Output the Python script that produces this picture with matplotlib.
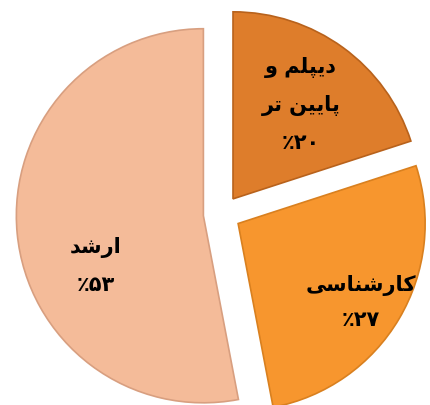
import matplotlib
matplotlib.use("Agg")
import matplotlib.pyplot as plt
import numpy as np

# داده ها
label_lines = [["دیپلم و", "پایین تر"], ["کارشناسی"], ["ارشد"]]
values = [20, 27, 53]
colors = ["#DE7D2B", "#F7962E", "#F4BB99"]
edge_colors = ["#B8621C", "#D9801F", "#D89F80"]

# Arabic presentation forms: isolated, final, initial, medial
FORMS = {
    'ا': ('\uFE8D', '\uFE8E', None, None),
    'د': ('\uFEA9', '\uFEAA', None, None),
    'ر': ('\uFEAD', '\uFEAE', None, None),
    'و': ('\uFEED', '\uFEEE', None, None),
    'پ': ('\uFB56', '\uFB57', '\uFB58', '\uFB59'),
    'ت': ('\uFE95', '\uFE96', '\uFE97', '\uFE98'),
    'ش': ('\uFEB5', '\uFEB6', '\uFEB7', '\uFEB8'),
    'س': ('\uFEB1', '\uFEB2', '\uFEB3', '\uFEB4'),
    'ل': ('\uFEDD', '\uFEDE', '\uFEDF', '\uFEE0'),
    'م': ('\uFEE1', '\uFEE2', '\uFEE3', '\uFEE4'),
    'ن': ('\uFEE5', '\uFEE6', '\uFEE7', '\uFEE8'),
    'ی': ('\uFBFC', '\uFBFD', '\uFBFE', '\uFBFF'),
    'ک': ('\uFB8E', '\uFB8F', '\uFB90', '\uFB91'),
}


def shape(text):
    # matplotlib has no bidi / shaping, do it by hand
    out = []
    for i, ch in enumerate(text):
        f = FORMS.get(ch)
        if f is None:
            out.append(ch)
            continue
        prev = text[i - 1] if i > 0 else None
        nxt = text[i + 1] if i + 1 < len(text) else None
        join_prev = prev in FORMS and FORMS[prev][2] is not None
        join_next = nxt in FORMS and f[2] is not None
        if join_prev and join_next:
            out.append(f[3])
        elif join_prev:
            out.append(f[1])
        elif join_next:
            out.append(f[2])
        else:
            out.append(f[0])
    return ''.join(reversed(out))


def fa_pct(v):
    digits = str(v).translate(str.maketrans("0123456789", "۰۱۲۳۴۵۶۷۸۹"))
    return "٪" + digits


fig = plt.figure(figsize=(4.3, 4.05), dpi=100)
ax = fig.add_axes([0, 0, 1, 1])

wedges, _ = ax.pie(values, colors=colors, startangle=90, counterclock=False,
                   explode=[0.1, 0.1, 0.1], radius=1.0,
                   wedgeprops=dict(linewidth=1.2))
for w, ec in zip(wedges, edge_colors):
    w.set_edgecolor(ec)

# label placement (fraction of radius, angle shift, line spacing) per slice
label_pos = [(0.72, 0, 2.05), (0.88, -2, 1.85), (0.73, 17, 2.1)]
for w, lines, v, (rf, dang, ls) in zip(wedges, label_lines, values, label_pos):
    mid = np.deg2rad((w.theta1 + w.theta2) / 2 + dang)
    x, y = rf * np.cos(mid), rf * np.sin(mid)
    txt = "\n".join([shape(s) for s in lines] + [fa_pct(v)])
    ax.text(x, y, txt, ha="center", va="center", fontsize=15,
            fontweight="bold", family=["DejaVu Sans"], linespacing=ls,
            multialignment="center")

ax.set_xlim(-1.187, 1.112)
ax.set_ylim(-1.021, 1.144)
ax.set_aspect("equal")
ax.axis("off")

fig.savefig("out.png", dpi=100)
